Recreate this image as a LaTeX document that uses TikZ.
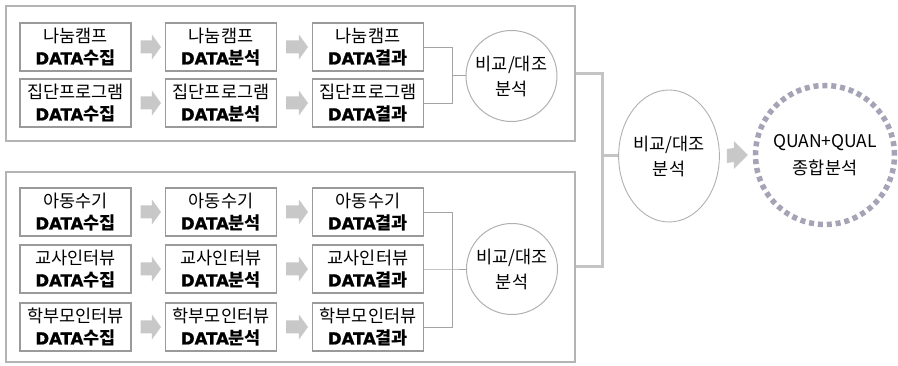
\documentclass[tikz,border=0pt]{standalone}
\usepackage{fontspec}
\newfontfamily\kr{Noto Sans CJK KR}
\newfontfamily\datfont{DejaVu Sans}[BoldFeatures={FakeBold=1.2}]
\usetikzlibrary{shapes.geometric,calc}
\definecolor{boxline}{HTML}{9A9A9A}
\definecolor{grpline}{HTML}{B4B4B4}
\definecolor{circline}{HTML}{B0B0B0}
\definecolor{connline}{HTML}{A4A4A4}
\definecolor{bigline}{HTML}{C4C4C4}
\definecolor{arrgray}{HTML}{C8C8C8}
\definecolor{dotcol}{HTML}{A4A4B6}
\newcommand\dl[1]{{\datfont\bfseries\fontsize{16.5}{22}\selectfont DATA}{\bfseries #1}}
% block arrow between two nodes: #1 from, #2 to, #3 start gap, #4 end gap, #5 shaft half, #6 head half, #7 head length
\newcommand\barrow[7]{%
  \fill[arrgray] ($(#1.east)+(#3,-#5)$) -- ($(#2.west)+(-#4-#7,-#5)$) -- ($(#2.west)+(-#4-#7,-#6)$)
    -- ($(#2.west)+(-#4,0)$) -- ($(#2.west)+(-#4-#7,#6)$) -- ($(#2.west)+(-#4-#7,#5)$)
    -- ($(#1.east)+(#3,#5)$) -- cycle;}
\tikzset{
  databox/.style={draw=boxline, line width=1.1pt, minimum width=111pt, minimum height=48pt,
    inner sep=0pt, align=center, fill=white, font=\kr\fontsize{17.5}{22}\selectfont},
  grp/.style={draw=grpline, line width=1.4pt, inner sep=0pt},
  cmp/.style={circle, draw=circline, line width=1pt, minimum size=91pt, inner sep=0pt,
    align=center, font=\kr\fontsize{17.5}{25}\selectfont},
  conn/.style={draw=connline, line width=0.9pt},
  bigconn/.style={draw=bigline, line width=3pt},
}
\begin{document}
\begin{tikzpicture}[x=1pt,y=-1pt]
\useasboundingbox (0,0) rectangle (898,366);
% groups
\node[grp, minimum width=569pt, minimum height=135pt] (g1) at (290.5,73.5) {};
\node[grp, minimum width=569pt, minimum height=190pt] (g2) at (290.5,267) {};
% top group boxes
\node[databox] (a1) at (75.5,47) {나눔캠프\\\dl{수집}};
\node[databox] (a2) at (221,47) {나눔캠프\\\dl{분석}};
\node[databox] (a3) at (368,47) {나눔캠프\\\dl{결과}};
\node[databox] (b1) at (75.5,103) {집단프로그램\\\dl{수집}};
\node[databox] (b2) at (221,103) {집단프로그램\\\dl{분석}};
\node[databox] (b3) at (368,103) {집단프로그램\\\dl{결과}};
% bottom group boxes
\node[databox] (c1) at (75.5,212) {아동수기\\\dl{수집}};
\node[databox] (c2) at (221,212) {아동수기\\\dl{분석}};
\node[databox] (c3) at (368,212) {아동수기\\\dl{결과}};
\node[databox] (d1) at (75.5,269) {교사인터뷰\\\dl{수집}};
\node[databox] (d2) at (221,269) {교사인터뷰\\\dl{분석}};
\node[databox] (d3) at (368,269) {교사인터뷰\\\dl{결과}};
\node[databox] (e1) at (75.5,327) {학부모인터뷰\\\dl{수집}};
\node[databox] (e2) at (221,327) {학부모인터뷰\\\dl{분석}};
\node[databox] (e3) at (368,327) {학부모인터뷰\\\dl{결과}};
% block arrows
\foreach \r in {a,b,c,d,e}{
  \barrow{\r1}{\r2}{9}{4}{6.5}{12.5}{9}
  \barrow{\r2}{\r3}{9}{4}{6.5}{12.5}{9}
}
% comparison circles
\node[cmp] (k1) at (511.5,76) {비교/대조\\분석};
\node[cmp] (k2) at (512,269) {비교/대조\\분석};
\coordinate (j1) at (452,75);
\coordinate (j2) at (452,269);
\draw[conn] (a3.east) -| (j1);
\draw[conn] (b3.east) -| (j1);
\draw[conn] (j1) -- (j1 -| k1.west);
\draw[conn] (c3.east) -| (j2);
\draw[conn] (e3.east) -| (j2);
\draw[conn] (d3.east) -- (j2) -- (k2.west);
% final comparison
\node[ellipse, draw=circline, line width=0.9pt, minimum width=84pt, minimum height=132pt,
  inner sep=0pt, align=center, font=\kr\fontsize{17.5}{25}\selectfont] (el) at (669,156) {비교/대조\\분석};
\coordinate (jr) at (602,156);
\draw[bigconn] (g1.east) -| (jr);
\draw[bigconn] (g2.east) -| (jr);
\draw[bigconn] (jr) -- (el.west);
% final synthesis
\node[circle, draw=dotcol, line width=5.5pt, dash pattern=on 5pt off 3.9pt, minimum size=139pt,
  inner sep=0pt, align=center, font=\kr\fontsize{17.5}{27}\selectfont] (qq) at (825,155) {QUAN+QUAL\\종합분석};
\barrow{el}{qq}{7}{5}{7}{14}{14}
\end{tikzpicture}
\end{document}
